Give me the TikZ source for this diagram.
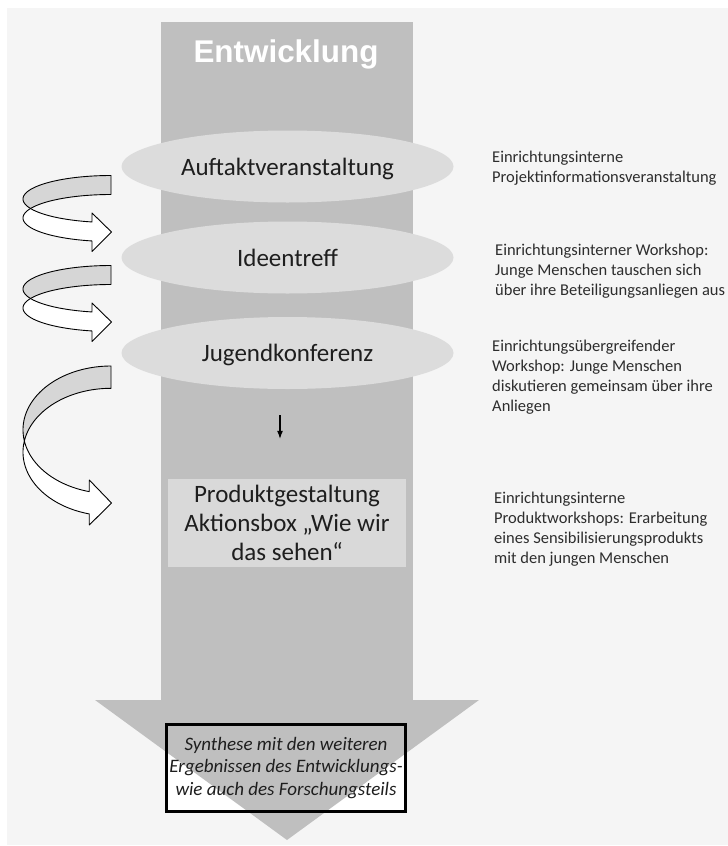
\documentclass[tikz,border=0pt]{standalone}
\usepackage{fontspec}
\setmainfont{Carlito}
\newfontfamily\titlefont{Liberation Sans}
\usetikzlibrary{arrows.meta,shapes.geometric}
\definecolor{bggray}{RGB}{245,245,245}
\definecolor{colgray}{RGB}{191,191,191}
\definecolor{ellgray}{RGB}{220,220,220}
\definecolor{boxgray}{RGB}{217,217,217}
\definecolor{backgray}{RGB}{214,214,214}
\definecolor{txtdark}{RGB}{30,30,30}
\definecolor{desctxt}{RGB}{45,45,45}
\begin{document}
\begin{tikzpicture}[x=1pt,y=-1pt,
  titlestyle/.style={text=white,font=\titlefont\bfseries\fontsize{31.4}{34}\selectfont,inner sep=0pt,anchor=base},
  stage/.style={ellipse,fill=ellgray,minimum width=332pt,minimum height=72pt,inner sep=0pt,
    text=txtdark,font=\fontsize{25}{29}\selectfont,text height=21pt,text depth=4pt},
  prodbox/.style={rectangle,fill=boxgray,minimum width=238pt,minimum height=88pt,inner sep=0pt,
    text=txtdark,align=center,font=\fontsize{25}{29}\selectfont},
  synth/.style={rectangle,draw=black,fill=none,line width=2.6pt,minimum width=239.4pt,minimum height=87.4pt,inner sep=0pt,
    text=txtdark,align=center,font=\itshape\fontsize{19}{22.5}\selectfont},
  desc/.style={anchor=base west,align=left,inner sep=0pt,text=desctxt,font=\fontsize{16.5}{20}\selectfont},
  smallarrow/.style={draw=black,line width=1.1pt,-{Latex[length=8pt,width=6pt]}},
  bandback/.style={fill=backgray,draw=black,line width=0.9pt,line join=round},
  bandfront/.style={fill=white,draw=black,line width=0.9pt,line join=round}
]
\useasboundingbox (0,0) rectangle (728,846);
\fill[white] (0,0) rectangle (728,846);
\fill[bggray] (7,8) rectangle (728,845);
% white area behind synthesis box
\fill[white] (165,723) rectangle (407,813);
% big column arrow: shaft and head
\fill[colgray] (161,22) rectangle (413,701);
\fill[colgray] (95,700) -- (479,700) -- (287,840) -- cycle;

\node[titlestyle] (title) at (286,62) {Entwicklung};

\node[stage] (auf) at (287.5,166.5) {Auftaktveranstaltung};
\node[stage] (idee) at (287.5,257.5) {Ideentreff};
\node[stage] (jug) at (287.5,353) {Jugendkonferenz};
\node[prodbox] (prod) at (287,523) {Produktgestaltung\\Aktionsbox „Wie wir\\das sehen“};
\node[synth] (syn) at (286,768) {Synthese mit den weiteren\\Ergebnissen des Entwicklungs-\\wie auch des Forschungsteils};

\draw[smallarrow] ([xshift=-7.5pt,yshift=-26pt]jug.south) -- ([xshift=-7pt,yshift=40pt]prod.north);

% descriptions (anchored at the baseline of their last line)
\node[desc] (d1) at (492,182) {Einrichtungsinterne\\Projektinformationsveranstaltung};
\node[desc] (d2) at (495,295) {Einrichtungsinterner Workshop:\\Junge Menschen tauschen sich\\über ihre Beteiligungsanliegen aus};
\node[desc] (d3) at (492,411) {Einrichtungsübergreifender\\Workshop: Junge Menschen\\diskutieren gemeinsam über ihre\\Anliegen};
\node[desc] (d4) at (494,563) {Einrichtungsinterne\\Produktworkshops: Erarbeitung\\eines Sensibilisierungsprodukts\\mit den jungen Menschen};

% curved arrows 1 and 2
\foreach \dy in {0,90}{
\begin{scope}[shift={(0,\dy)}]
\draw[bandback] plot[domain=270:156.2,samples=50] ({111+88*cos(\x)},{199+23.5*sin(\x)})
  -- plot[domain=203.8:270,samples=50] ({111+88*cos(\x)},{218+23.5*sin(\x)}) -- cycle;
\draw[bandfront] plot[domain=156.2:102.5,samples=40] ({111+88*cos(\x)},{199+23.5*sin(\x)})
  -- (92,213) -- (111.5,232) -- (92,251.5)
  -- plot[domain=102.5:203.8,samples=50] ({111+88*cos(\x)},{218+23.5*sin(\x)}) -- cycle;
\end{scope}
}
% curved arrow 3
\draw[bandback] plot[domain=270:169.9,samples=60] ({111+88*cos(\x)},{429.8+63.8*sin(\x)})
  -- plot[domain=190.1:270,samples=60] ({111+88*cos(\x)},{452.1+63.8*sin(\x)}) -- cycle;
\draw[bandfront] plot[domain=169.9:104.3,samples=60] ({111+88*cos(\x)},{429.8+63.8*sin(\x)})
  -- (89.3,480) -- (111.5,503) -- (89.3,525)
  -- plot[domain=104.3:190.1,samples=60] ({111+88*cos(\x)},{452.1+63.8*sin(\x)}) -- cycle;
\end{tikzpicture}
\end{document}
